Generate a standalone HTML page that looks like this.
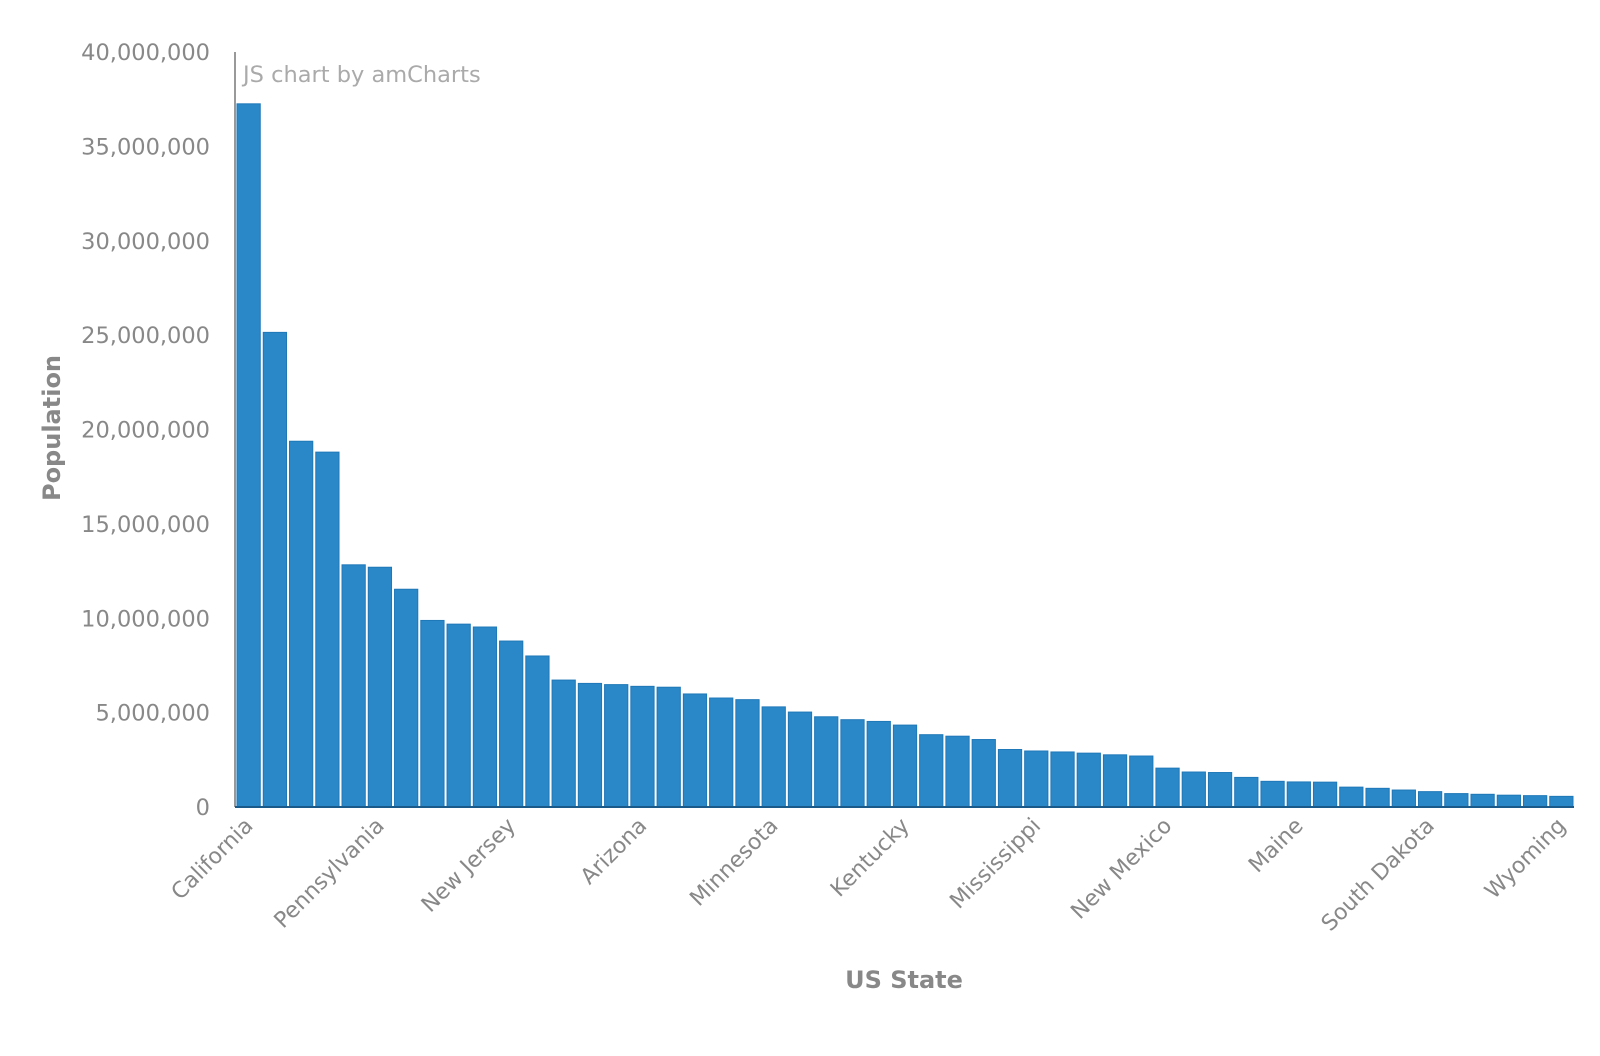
<!DOCTYPE html>
<html><head><meta charset="utf-8"><style>
html,body{margin:0;padding:0;background:#fff;}
svg{display:block;font-family:"DejaVu Sans","Liberation Sans",sans-serif;}
</style></head><body>
<svg id="chart" width="1600" height="1056" viewBox="0 0 1600 1056">
<g id="yticks"></g>
<g id="bars"></g>
<g id="xticks"></g>
<line x1="235" y1="52" x2="235" y2="807" stroke="#999" stroke-width="2"/>
<line x1="235" y1="807" x2="1574" y2="807" stroke="#1a5a8a" stroke-width="2"/>
<text x="243" y="82" font-size="22.5" fill="#aaa">JS chart by amCharts</text>
<text transform="translate(60,428) rotate(-90)" text-anchor="middle" font-size="24" font-weight="bold" fill="#888">Population</text>
<text x="904" y="988" text-anchor="middle" font-size="24" font-weight="bold" fill="#888">US State</text>
</svg>
<script>
const states=["California","Texas","New York","Florida","Illinois","Pennsylvania","Ohio","Michigan","Georgia","North Carolina","New Jersey","Virginia","Washington","Massachusetts","Indiana","Arizona","Tennessee","Missouri","Maryland","Wisconsin","Minnesota","Colorado","Alabama","South Carolina","Louisiana","Kentucky","Oregon","Oklahoma","Connecticut","Iowa","Mississippi","Arkansas","Kansas","Utah","Nevada","New Mexico","West Virginia","Nebraska","Idaho","Hawaii","Maine","New Hampshire","Rhode Island","Montana","Delaware","South Dakota","Alaska","North Dakota","Vermont","District of Columbia","Wyoming"];
const population=[37253956,25145561,19378102,18801310,12830632,12702379,11536504,9883640,9687653,9535483,8791894,8001024,6724540,6547629,6483802,6392017,6346105,5988927,5773552,5686986,5303925,5029196,4779736,4625364,4533372,4339367,3831074,3751351,3574097,3046355,2967297,2915918,2853118,2763885,2700551,2059179,1852994,1826341,1567582,1360301,1328361,1316470,1052567,989415,897934,814180,710231,672591,625741,601723,563626];
const yTicks=[0,5000000,10000000,15000000,20000000,25000000,30000000,35000000,40000000];
const yTickLabels=["0","5,000,000","10,000,000","15,000,000","20,000,000","25,000,000","30,000,000","35,000,000","40,000,000"];
const shownLabelEvery=5;

const NS="http://www.w3.org/2000/svg";
const X0=235,X1=1574,Y0=807,Y1=52,YMAX=40000000;
const band=(X1-X0)/states.length;
function y(v){return Y0-(v/YMAX)*(Y0-Y1);}
function x(i){return X0+i*band;}
function mk(t,a){const e=document.createElementNS(NS,t);for(const k in a)e.setAttribute(k,a[k]);return e;}
const yg=document.getElementById('yticks'),bg=document.getElementById('bars'),xg=document.getElementById('xticks');
yTicks.forEach((v,i)=>{
  const t=mk('text',{x:210,y:y(v)+8,'text-anchor':'end','font-size':'22.5',fill:'#888'});
  
  
  t.textContent=yTickLabels[i];yg.appendChild(t);
});
states.forEach((s,i)=>{
  const r=mk('rect',{x:x(i)+2,y:y(population[i]),width:band-3,height:Y0-y(population[i]),fill:'#2a88c8',stroke:'#1f78b8','stroke-width':1});
  
  
  bg.appendChild(r);
  if(i%shownLabelEvery===0){
    const cx=x(i)+band/2+6,cy=Y0+20;
    const t=mk('text',{x:cx,y:cy,'text-anchor':'end','font-size':'22',fill:'#888',transform:'rotate(-45 '+cx+' '+cy+')'});
    
    
    t.textContent=s;xg.appendChild(t);
  }
});
</script>
</body></html>
